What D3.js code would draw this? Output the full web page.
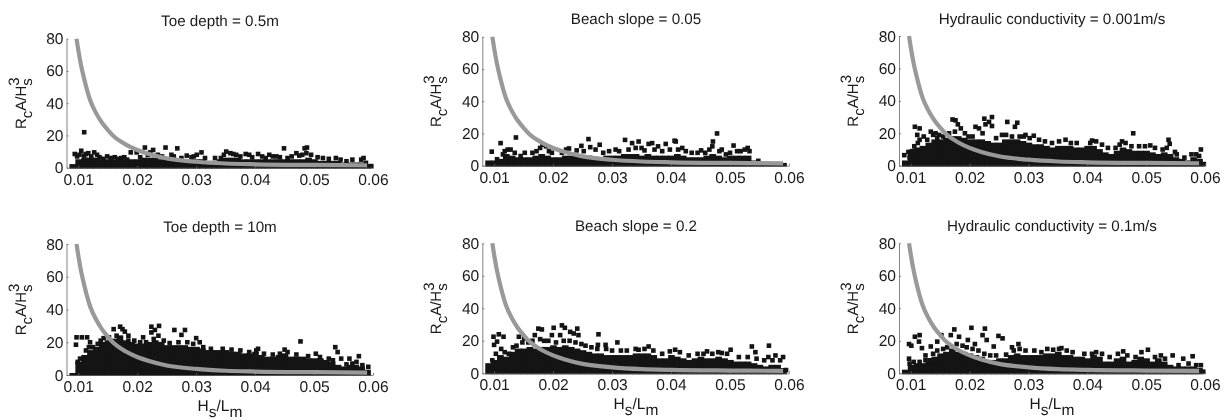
<!DOCTYPE html>
<html><head><meta charset="utf-8">
<script src="https://cdn.jsdelivr.net/npm/d3@7/dist/d3.min.js"></script>
<style>html,body{margin:0;padding:0;background:#fff}svg{display:block;filter:blur(.4px)}text{font-family:"Liberation Sans",Arial,sans-serif;fill:#1a1a1a;text-rendering:geometricPrecision}</style>
</head><body><svg id="c" width="1228" height="420"></svg>
<script>
const xTicks=[.01,.02,.03,.04,.05,.06];
const yTicks=[0,20,40,60,80];
const binX=[.009,.01,.011,.012,.013,.014,.015,.016,.017,.018,.019,.02,.021,.022,.023,.024,.025,.026,.027,.028,.029,.03,.031,.032,.033,.034,.035,.036,.037,.038,.039,.04,.041,.042,.043,.044,.045,.046,.047,.048,.049,.05,.051,.052,.053,.054,.055,.056,.057,.058,.059];
const curveX=[.0097,.01,.0105,.011,.012,.013,.014,.015,.016,.018,.02,.022,.025,.03,.035,.04,.05,.059];
const curveY=[80,73,63,55,42,34,28,23.5,19.5,14.5,11,8.5,5.8,3.7,2.6,2.1,1.7,1.5];

const titles=["Toe depth = 0.5m","Beach slope = 0.05","Hydraulic conductivity = 0.001m/s","Toe depth = 10m","Beach slope = 0.2","Hydraulic conductivity = 0.1m/s"];

const massToe05=[1,4,5,5,5,4,4,4,4,4,4,4,5,5,5,4,5,5,4,4,4,4,4,3,3,4,5,5,5,4,4,4,4,4,4,4,4,4,4,4,5,4,3,3,3,3,2,2,2,2,1];
const massSlope05=[2,2,3,6,5,4,4,4,5,6,5,4,4,5,5,5,5,5,4,4,5,5,5,6,6,6,5,6,5,5,5,5,6,5,4,4,4,5,6,5,4,5,5,5,5,2,1.5,1,1,1,.5];
const massK001=[2,7,10,11,13,15,15,16,17,17,16,15,15,15,14,13,13,15,15,15,14,13,12,12,11,10,11,11,11,10,10,11,11,9,7,6,8,10,9,8,8,8,7,6,7,6,4,3,2,4,3];
const massToe10=[0,7,11,14,16,19,20,21,23,20,19,18,18,19,20,19,17,17,17,17,16,16,15,14,14,14,14,13,13,12,12,13,11,10,10,11,12,10,10,10,9,9,9,8,7,5,4,5,5,4,2];
const massSlope2=[5,7,10,9,12,14,14,15,14,15,15,16,15,16,15,14,13,12,11,11,10,10,10,10,10,11,11,11,10,8,8,10,9,8,7,8,9,8,8,9,8,7,6,6,6,5,4,3,4,4,2];
const massK1=[1,4,5,5,6,9,11,12,14,12,12,11,10,9,7,7,8,8,10,11,10,10,10,10,11,11,12,10,10,9,9,8,10,9,6,6,8,9,6,7,9,8,6,8,6,4,3,3,3,3,2];

const ptsToe05=[[.011,22],[.0105,10.5],[.0094,8.5],[.0117,9],[.0127,9.5],[.0149,7],[.0162,6.5],[.0173,6],[.0189,9.5],[.0199,9.5],[.0213,12.5],[.0227,11],[.0248,12.5],[.0268,12],[.0284,7.5],[.0301,8],[.0309,9.5],[.0332,6],[.0351,10],[.0363,8.5],[.0384,8.5],[.0405,8.5],[.0424,8],[.0436,7],[.0449,12],[.047,9],[.0484,12],[.0488,12.5],[.0487,9],[.0495,8],[.0506,6.5],[.0537,6],[.0565,5],[.0584,6],[.0597,1],
[.0098,7],[.0102,8],[.011,7.5],[.0113,8.5],[.0122,7],[.0132,8],[.0136,6.5],[.0142,5.5],[.0155,6],[.0168,5.5],[.0178,6.5],[.0183,5],[.0205,6.5],[.0218,8],[.0222,9.5],[.0235,8],[.0242,7],[.0258,8],[.0262,7],[.0275,6],[.0292,6.5],[.0296,7],[.0315,6],[.0342,6],[.0347,8],[.0358,9],[.0368,8],[.0375,7],[.039,8],[.0395,6.5],[.0412,7],[.0418,6],[.043,7],[.0442,6.5],[.0455,6],[.0462,7],[.0475,7.5],[.048,8],[.0515,6],[.0525,5.5],[.0545,5],[.0555,4],[.058,5],[.0588,3]];
const ptsSlope05=[[.0096,8.7],[.0111,14],[.0137,17.5],[.0123,10],[.0182,13],[.0227,10.7],[.0248,12.3],[.026,16.5],[.0263,11.5],[.0279,13],[.0306,10],[.0322,16],[.0334,14],[.0345,15],[.0362,13.5],[.0368,14],[.0378,12],[.0391,13.5],[.0406,15.5],[.0408,15],[.0419,11],[.0451,9.5],[.0471,15],[.047,12],[.0478,20],[.0486,10],[.0506,12.5],[.053,11],[.0548,3],
[.0105,4],[.0115,7],[.0118,9],[.0128,10],[.0135,8],[.0145,6],[.0152,8],[.0165,8],[.0172,9],[.0178,11],[.0188,12],[.0193,9],[.0198,8],[.0215,8],[.0222,10],[.024,9.5],[.0252,9],[.0272,10],[.0285,8],[.0295,9],[.0312,9],[.0328,10],[.034,11],[.035,11],[.0355,9.5],[.0372,10],[.0385,9],[.0398,10],[.0412,10],[.0425,9],[.0435,8],[.0445,8],[.0458,8],[.0465,10],[.0482,9],[.0493,7],[.05,8],[.0512,9],[.0518,9],[.0525,10],[.0533,9]];
const ptsK001=[[.0089,6.5],[.0096,8.5],[.0107,24],[.0115,23],[.0111,19],[.0115,16],[.0106,12],[.0134,21],[.0142,20],[.0148,19],[.0171,28.5],[.0176,28],[.018,25.5],[.0185,23],[.021,24],[.0216,23],[.0225,29],[.0238,30],[.0233,27],[.0227,25.5],[.0238,24.5],[.0264,27],[.0281,26.5],[.0277,24],[.0309,18.5],[.0295,19],[.0363,16],[.0408,15.5],[.0478,20],[.0459,15],[.0538,16],[.054,13.5],[.0593,10],[.0577,7],[.0598,1],[.0549,8.5],[.0507,12.5],
[.0098,5],[.0102,9],[.0112,14],[.0122,18],[.0128,16],[.0138,19],[.0145,17],[.0155,18],[.0165,20],[.0175,21],[.0192,20],[.0198,18],[.0205,18],[.0222,20],[.0245,17],[.0255,19],[.0262,19],[.0272,18],[.0285,18],[.0292,18],[.0302,17],[.0318,16],[.0328,15],[.034,14],[.0352,15],[.0372,14],[.0382,14],[.0405,14],[.0415,15],[.0425,13],[.0435,11],[.0448,11],[.0455,13],[.0465,14],[.0475,12],[.0488,12],[.0498,12],[.0515,11],[.0528,10],[.0535,11],[.0552,7],[.0565,5],[.0585,7],[.059,6]];
const ptsToe10=[[.0097,23],[.0096,18.5],[.0106,23],[.0115,23],[.012,20],[.016,28],[.0171,29.5],[.0175,28],[.0179,26.5],[.0185,24],[.021,23],[.0224,26],[.0224,29.5],[.0237,30],[.023,27.5],[.0236,24],[.0263,27.5],[.0281,27.5],[.0275,24.5],[.03,22.5],[.0306,20],[.0477,20.5],[.0536,17],[.054,14],[.0546,10],[.056,10],[.0576,11.5],[.0592,5],[.0503,13],[.045,15.5],[.0405,16],
[.0103,10],[.0099,8],[.0113,15],[.0118,17],[.0125,17],[.0133,19],[.0138,21],[.0143,22.5],[.0152,23],[.0165,24],[.0185,21],[.0195,21],[.0205,20],[.0215,20],[.0228,22],[.0245,21],[.0255,19.5],[.027,20],[.0285,20],[.0295,19],[.0312,17],[.0325,16],[.0345,16],[.036,15.5],[.0375,15],[.039,14],[.0402,15],[.0415,13],[.043,12.5],[.0442,13],[.0455,14],[.047,12.5],[.049,11.5],[.051,11],[.0525,10],[.0532,9],[.0555,6.5],[.0565,7],[.0572,8],[.0582,6]];
const ptsSlope2=[[.0099,22.5],[.01,17.5],[.0108,24],[.0116,22.5],[.0105,19.5],[.0142,22.5],[.0151,21.5],[.0175,27.5],[.0181,27],[.0169,23.5],[.0201,28],[.0198,23.5],[.0215,29.5],[.022,28],[.0212,23.5],[.0229,25.5],[.0241,27.5],[.0235,24.5],[.0243,23.5],[.0277,24],[.0276,17.5],[.0289,17.5],[.0309,19],[.034,15],[.0362,16.5],[.0407,14.5],[.0461,13.5],[.0486,12.5],[.0501,14.5],[.0537,16.5],[.0566,17],[.0543,13],[.0565,10],[.059,10],[.0577,11],
[.0097,8],[.0103,12],[.0112,15],[.0118,13],[.0125,12],[.0132,16],[.0138,17],[.0148,19],[.0158,19],[.0165,20],[.0178,21],[.0185,20],[.0192,20],[.0205,19],[.0218,20],[.0228,20],[.0238,19],[.0248,18],[.0255,17],[.0265,16],[.0275,15],[.029,15],[.03,14],[.0315,14],[.0325,14],[.0345,14.5],[.0355,15],[.037,14],[.0385,12],[.0398,13.5],[.0415,13],[.043,11],[.0445,12],[.0455,12],[.047,12],[.048,13],[.0495,12],[.0515,10],[.053,10],[.0545,9],[.0558,8],[.0572,8],[.0585,8],[.0595,2]];
const ptsK1=[[.0097,18],[.0107,22.5],[.0115,23.5],[.0101,17],[.0114,19.5],[.0119,15.5],[.0125,11],[.0097,9],[.0145,19.5],[.0134,16.5],[.0152,23.5],[.0174,27],[.0168,23.5],[.0182,22.5],[.0203,28],[.0197,20.5],[.0209,18],[.0226,27.5],[.0222,23.5],[.0229,20.5],[.0249,23],[.0256,21.5],[.0241,16.5],[.0283,18],[.0272,16],[.0356,15.5],[.0461,13.5],[.0503,14.5],[.0545,11],[.0579,10.5],[.0563,9],[.0593,5],[.0597,1],
[.0098,6],[.0105,7],[.0115,7],[.0125,8],[.0132,8],[.0138,12],[.0145,14],[.0155,15],[.0162,16],[.0178,18],[.0188,17],[.0195,16],[.0205,15],[.0215,14],[.0225,12],[.0235,11],[.0245,11],[.0262,11.5],[.0275,14],[.0285,15],[.0295,14],[.031,14],[.0322,13],[.0332,15],[.0342,14.5],[.0352,15],[.0365,14],[.0375,13],[.0395,12],[.0408,12],[.0415,13],[.0425,12],[.0438,10],[.0452,12],[.0468,11],[.0482,10],[.0492,13],[.0515,10],[.0525,11],[.0532,9],[.0555,5],[.0572,6],[.0585,5]];

const masses=[massToe05,massSlope05,massK001,massToe10,massSlope2,massK1];
const points=[ptsToe05,ptsSlope05,ptsK001,ptsToe10,ptsSlope2,ptsK1];
// panel frames: left, x of 0.06, top (y=80), bottom (y=0)
const frames=[[66.5,373,38.7,167.7],[482.3,789,36.7,165.7],[899,1205,36,165.7],[66.5,373,244,375],[482.3,789,243.3,373.3],[899,1205,243.3,373.3]];
const titleY=[26,24,24,232,231,231];
const titleX=[220,636,1052,220,636,1052];
const svg=d3.select("#c");
frames.forEach((f,i)=>{
  const x=d3.scaleLinear().domain([.008,.06]).range([f[0],f[1]]);
  const y=d3.scaleLinear().domain([0,80]).range([f[3],f[2]]);
  const g=svg.append("g");
  const col=x(.01)-x(.009);
  g.append("g").selectAll("rect").data(masses[i]).join("rect")
    .attr("x",(d,j)=>x(binX[j])-col/2).attr("width",col+.8)
    .attr("y",d=>y(d)-2).attr("height",d=>y(0)-y(d)+3).attr("fill","#141414");
  g.append("g").selectAll("rect").data(points[i]).join("rect")
    .attr("x",d=>x(d[0])-2.3).attr("y",d=>y(d[1])-2.3).attr("width",4.6).attr("height",4.6).attr("fill","#141414");
  const ax=g.append("g").attr("transform",`translate(0,${f[3]})`)
    .call(d3.axisBottom(x).tickValues(xTicks).tickFormat(d3.format(".2f")).tickSizeInner(-2).tickSizeOuter(0).tickPadding(6));
  const ay=g.append("g").attr("transform",`translate(${f[0]},0)`)
    .call(d3.axisLeft(y).tickValues(yTicks).tickSizeInner(-2).tickSizeOuter(0).tickPadding(3));
  [ax,ay].forEach(a=>{a.selectAll("path,line").attr("stroke","#666").attr("stroke-width",.8);
    a.selectAll("text").attr("font-size",15.6).style("font-family",'"Liberation Sans",Arial,sans-serif').attr("fill","#1a1a1a");});
  g.append("path").datum(curveX.map((v,j)=>[v,curveY[j]]))
    .attr("d",d3.line().x(d=>x(d[0])).y(d=>y(d[1])).curve(d3.curveMonotoneX))
    .attr("fill","none").attr("stroke","#999").attr("stroke-width",4.2);
  g.append("text").attr("x",titleX[i]).attr("y",titleY[i]).attr("text-anchor","middle").attr("font-size",15.2).text(titles[i]);
  const yl=g.append("text").attr("transform",`translate(${f[0]-41},${(f[2]+f[3])/2}) rotate(-90)`).attr("text-anchor","middle").attr("font-size",15);
  yl.append("tspan").text("R");
  yl.append("tspan").attr("dy",6).text("c");
  yl.append("tspan").attr("dy",-6).text("A/H");
  yl.append("tspan").attr("dy",-7).text("3");
  yl.append("tspan").attr("dy",13).attr("dx",-8.3).text("s");
  if(i>=3){
    const xl=g.append("text").attr("x",titleX[i]).attr("y",f[3]+36).attr("text-anchor","middle").attr("font-size",15.5);
    xl.append("tspan").text("H");
    xl.append("tspan").attr("dy",6).text("s");
    xl.append("tspan").attr("dy",-6).text("/L");
    xl.append("tspan").attr("dy",6).text("m");
  }
});
</script></body></html>
